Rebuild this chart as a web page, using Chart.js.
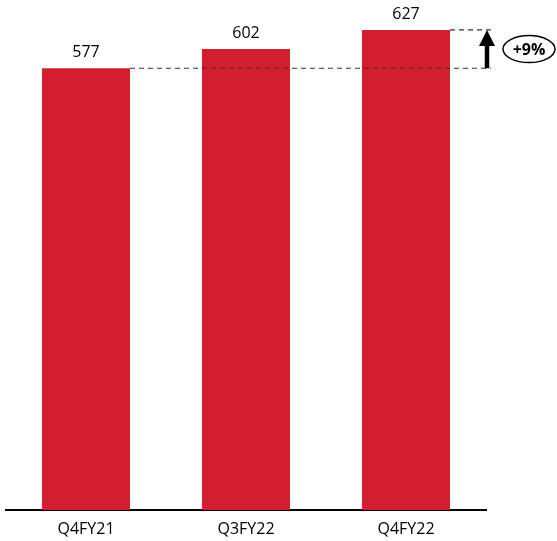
<!DOCTYPE html>
<html lang="en">
<head>
  <meta charset="UTF-8" />
  <title>Q4FY22</title>
  <script src="https://cdn.jsdelivr.net/npm/chart.js"></script>
  <style>
    * { margin: 0; padding: 0; box-sizing: border-box; }
    body { background: #fff; width: 557px; height: 541px; overflow: hidden; }
    .wrap { position: relative; width: 557px; height: 541px; }
  </style>
</head>
<body>
  <div class="wrap"><canvas id="chart"></canvas></div>

  <script>
    const categories = ['Q4FY21', 'Q3FY22', 'Q4FY22'];
    const values = [577, 602, 627];
    const growthLabel = '+9%';

    const barColor = '#D21E2F';
    const fontFamily = "'Open Sans', 'Liberation Sans', sans-serif";

    // value labels over each bar
    const valueLabels = {
      id: 'valueLabels',
      afterDatasetsDraw(chart) {
        const ctx = chart.ctx;
        const meta = chart.getDatasetMeta(0);
        ctx.save();
        ctx.fillStyle = '#000';
        ctx.font = '16px ' + fontFamily;
        ctx.textAlign = 'center';
        ctx.textBaseline = 'bottom';
        meta.data.forEach((bar, i) => {
          ctx.fillText(values[i], bar.x, bar.y - 8);
        });
        ctx.restore();
      }
    };

    // dashed guides, arrow and the growth bubble
    const growthMarker = {
      id: 'growthMarker',
      afterDatasetsDraw(chart) {
        const ctx = chart.ctx;
        const y = chart.scales.y;
        const meta = chart.getDatasetMeta(0);
        const first = meta.data[0];
        const last = meta.data[meta.data.length - 1];
        const yLow = y.getPixelForValue(values[0]);
        const yHigh = y.getPixelForValue(values[values.length - 1]);
        const lineEnd = chart.chartArea.right + 5;
        const arrowX = chart.chartArea.right + 1;

        ctx.save();
        ctx.strokeStyle = '#333';
        ctx.lineWidth = 1.2;
        ctx.setLineDash([5, 4]);
        ctx.beginPath();
        ctx.moveTo(first.x + first.width / 2, yLow);
        ctx.lineTo(lineEnd, yLow);
        ctx.moveTo(last.x + last.width / 2, yHigh);
        ctx.lineTo(lineEnd, yHigh);
        ctx.stroke();

        // arrow
        ctx.setLineDash([]);
        ctx.strokeStyle = '#000';
        ctx.lineWidth = 4.5;
        ctx.beginPath();
        ctx.moveTo(arrowX, yLow);
        ctx.lineTo(arrowX, yHigh + 12);
        ctx.stroke();
        ctx.fillStyle = '#000';
        ctx.beginPath();
        ctx.moveTo(arrowX, yHigh);
        ctx.lineTo(arrowX - 8, yHigh + 16);
        ctx.lineTo(arrowX + 8, yHigh + 16);
        ctx.closePath();
        ctx.fill();

        // bubble
        const cx = arrowX + 42;
        const cy = (yLow + yHigh) / 2;
        ctx.lineWidth = 1.5;
        ctx.beginPath();
        ctx.ellipse(cx, cy, 26, 13.5, 0, 0, Math.PI * 2);
        ctx.stroke();
        ctx.font = 'bold 16px ' + fontFamily;
        ctx.textAlign = 'center';
        ctx.textBaseline = 'middle';
        ctx.fillText(growthLabel, cx, cy + 1);
        ctx.restore();
      }
    };

    new Chart(document.getElementById('chart'), {
      type: 'bar',
      data: {
        labels: categories,
        datasets: [{
          data: values,
          backgroundColor: barColor,
          categoryPercentage: 1,
          barPercentage: 0.55
        }]
      },
      options: {
        responsive: true,
        maintainAspectRatio: false,
        animation: false,
        layout: { padding: { left: 6, right: 71, top: 20, bottom: 0 } },
        plugins: { legend: { display: false }, tooltip: { enabled: false } },
        scales: {
          x: {
            grid: { display: false, drawTicks: false },
            border: { color: '#000', width: 2 },
            ticks: { color: '#000', font: { family: fontFamily, size: 16 }, padding: 10 },
            afterFit(scale) { scale.height = 31; }
          },
          y: {
            display: false,
            min: 0,
            max: 640
          }
        }
      },
      plugins: [valueLabels, growthMarker]
    });
  </script>
</body>
</html>
